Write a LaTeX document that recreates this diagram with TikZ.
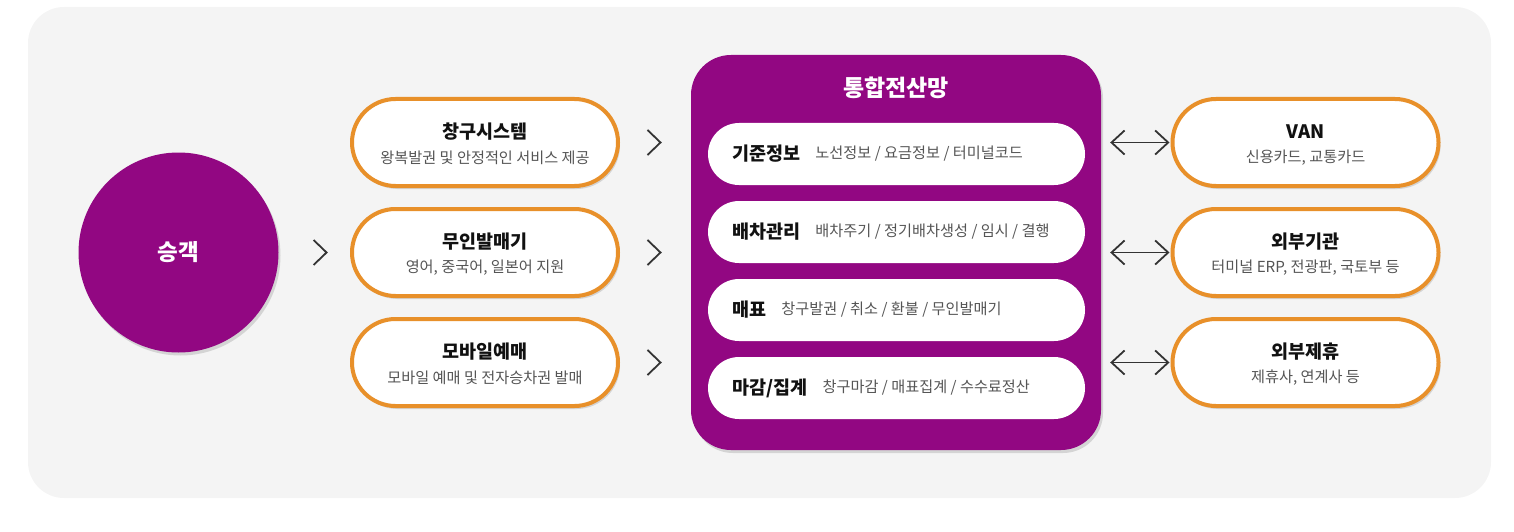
\documentclass[tikz,border=0pt]{standalone}
\usepackage{fontspec}
\setmainfont{Noto Sans CJK KR}
\usetikzlibrary{shadows,arrows.meta,calc}
\definecolor{bg}{HTML}{F4F4F4}
\definecolor{prp}{HTML}{920782}
\definecolor{org}{HTML}{E8902A}
\definecolor{txtgray}{HTML}{555555}
\definecolor{ink}{HTML}{111111}
\definecolor{arr}{HTML}{333333}
\newcommand\chevron[1]{\draw[chev] ($(#1)+(-6.5,-12.5)$) -- ($(#1)+(6.5,0)$) -- ($(#1)+(-6.5,12.5)$);}
\begin{document}
\begin{tikzpicture}[x=1pt,y=-1pt,
  shd/.style={drop shadow={shadow xshift=2pt,shadow yshift=-3pt,opacity=0.13,fill=black}},
  pill/.style={rectangle,draw=org,line width=4pt,fill=white,rounded corners=43.5pt,
    minimum width=266pt,minimum height=87pt,inner sep=0pt,shd},
  inpill/.style={rectangle,fill=white,rounded corners=31pt,minimum width=377pt,
    minimum height=62pt,inner sep=0pt},
  ttl/.style={font=\fontsize{18.5}{22}\selectfont\bfseries,text=ink,inner sep=0pt},
  sub/.style={font=\fontsize{15.2}{18}\selectfont,text=txtgray,inner sep=0pt},
  lbl/.style={font=\fontsize{18.5}{22}\selectfont\bfseries,text=ink,inner sep=0pt,anchor=west},
  dsc/.style={font=\fontsize{15.2}{18}\selectfont,text=txtgray,inner sep=0pt,anchor=west},
  chev/.style={draw=arr,line width=1.8pt,line join=miter},
  dbl/.style={draw=arr,line width=1.8pt,{Straight Barb[length=13pt,width=24pt]}-{Straight Barb[length=13pt,width=24pt]}}
]
\useasboundingbox (0,0) rectangle (1514,532);
\fill[bg,rounded corners=36pt] (28,7) rectangle (1491,498);

% passenger circle
\node[circle,fill=prp,minimum size=200pt,inner sep=0pt,shd,
  font=\fontsize{22.5}{26}\selectfont\bfseries,text=white] (pax) at (178.5,252.5) {승객};

% left pills
\node[pill] (p1) at (485,142.5) {};
\node[pill] (p2) at (485,252.5) {};
\node[pill] (p3) at (485,362.5) {};
\node[ttl] (p1t) at ($(p1.center)+(0,-11)$) {창구시스템};
\node[sub] (p1s) at ($(p1.center)+(0,15)$) {왕복발권 및 안정적인 서비스 제공};
\node[ttl] (p2t) at ($(p2.center)+(0,-11)$) {무인발매기};
\node[sub] (p2s) at ($(p2.center)+(0,15)$) {영어, 중국어, 일본어 지원};
\node[ttl] (p3t) at ($(p3.center)+(0,-11)$) {모바일예매};
\node[sub] (p3s) at ($(p3.center)+(0,15)$) {모바일 예매 및 전자승차권 발매};

% central network box
\node[rectangle,fill=prp,rounded corners=40pt,minimum width=410pt,minimum height=395pt,
  inner sep=0pt,shd] (net) at (896,252.5) {};
\node[font=\fontsize{23}{27}\selectfont\bfseries,text=white,inner sep=0pt] (nett) at (896,88) {통합전산망};

\node[inpill] (i1) at (896.5,154) {};
\node[inpill] (i2) at (896.5,232) {};
\node[inpill] (i3) at (896.5,310) {};
\node[inpill] (i4) at (896.5,388) {};
\node[lbl] (i1l) at ($(i1.west)+(24,0)$) {기준정보};
\node[dsc] (i1d) at ($(i1l.east)+(15,0)$) {노선정보 / 요금정보 / 터미널코드};
\node[lbl] (i2l) at ($(i2.west)+(24,0)$) {배차관리};
\node[dsc] (i2d) at ($(i2l.east)+(15,0)$) {배차주기 / 정기배차생성 / 임시 / 결행};
\node[lbl] (i3l) at ($(i3.west)+(24,0)$) {매표};
\node[dsc] (i3d) at ($(i3l.east)+(15,0)$) {창구발권 / 취소 / 환불 / 무인발매기};
\node[lbl] (i4l) at ($(i4.west)+(24,0)$) {마감/집계};
\node[dsc] (i4d) at ($(i4l.east)+(15,0)$) {창구마감 / 매표집계 / 수수료정산};

% right pills
\node[pill] (r1) at (1305.5,142.5) {};
\node[pill] (r2) at (1305.5,252.5) {};
\node[pill] (r3) at (1305.5,362.5) {};
\node[ttl] (r1t) at ($(r1.center)+(0,-11)$) {VAN};
\node[sub] (r1s) at ($(r1.center)+(0,15)$) {신용카드, 교통카드};
\node[ttl] (r2t) at ($(r2.center)+(0,-11)$) {외부기관};
\node[sub] (r2s) at ($(r2.center)+(0,15)$) {터미널 ERP, 전광판, 국토부 등};
\node[ttl] (r3t) at ($(r3.center)+(0,-11)$) {외부제휴};
\node[sub] (r3s) at ($(r3.center)+(0,15)$) {제휴사, 연계사 등};

% chevrons
\coordinate (c0) at ($(pax.east)!0.58!(p2.west)$);
\chevron{c0}
\coordinate (c1) at ($(p1.east)!0.48!(p1.east -| net.west)$);
\coordinate (c2) at ($(p2.east)!0.48!(p2.east -| net.west)$);
\coordinate (c3) at ($(p3.east)!0.48!(p3.east -| net.west)$);
\chevron{c1}
\chevron{c2}
\chevron{c3}

% double arrows
\coordinate (a1) at ($(net.east |- r1.west)+(9,0)$);
\coordinate (a2) at ($(net.east |- r2.west)+(9,0)$);
\coordinate (a3) at ($(net.east |- r3.west)+(9,0)$);
\draw[dbl] (a1) -- ($(r1.west)+(-1,0)$);
\draw[dbl] (a2) -- ($(r2.west)+(-1,0)$);
\draw[dbl] (a3) -- ($(r3.west)+(-1,0)$);
\end{tikzpicture}
\end{document}
